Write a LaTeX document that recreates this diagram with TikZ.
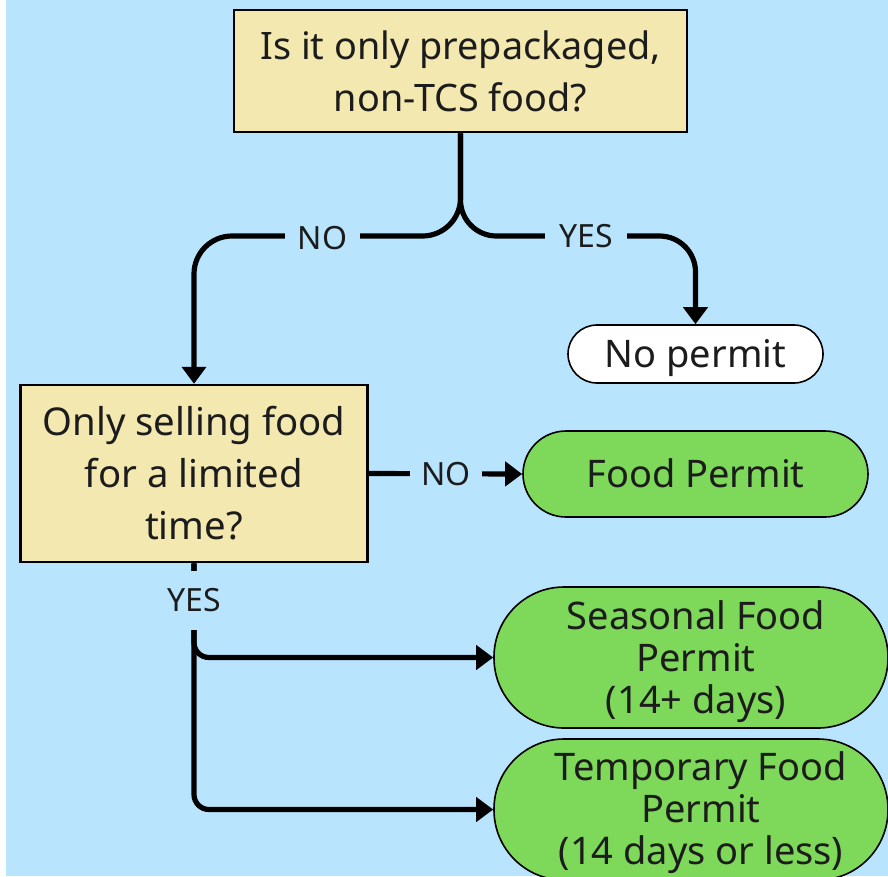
\documentclass[tikz,border=0pt]{standalone}
\usepackage{fontspec}
\setmainfont{Noto Sans}
\usetikzlibrary{arrows.meta}

\definecolor{bgblue}{RGB}{184,228,253}
\definecolor{qbeige}{RGB}{242,232,176}
\definecolor{pgreen}{RGB}{126,216,90}
\definecolor{ink}{RGB}{28,28,28}

\begin{document}
\begin{tikzpicture}[x=1pt,y=-1pt,
  question/.style={draw=black, line width=2.5pt, fill=qbeige, text=ink,
    align=center, inner sep=0pt, font=\fontsize{38.3}{52}\selectfont},
  pill/.style={draw=black, line width=1.6pt, inner sep=0pt, text=ink,
    align=center, font=\fontsize{38}{42}\selectfont},
  permit/.style={pill, fill=pgreen},
  permtext/.style={text=ink, align=center, inner sep=0pt,
    font=\fontsize{38}{42}\selectfont},
  conn/.style={line width=5.2pt, draw=black,
    -{Triangle[width=24pt,length=17pt]}},
  lab/.style={fill=bgblue, text=ink, inner sep=0pt,
    text height=22.8pt, text depth=0pt,
    font=\fontsize{32}{36}\selectfont}
]
% page and background
\useasboundingbox (0,0) rectangle (888,876);
\clip (0,0) rectangle (888,876);
\fill[white] (0,0) rectangle (888,876);
\fill[bgblue] (6,0) rectangle (888,876);

% decision boxes
\node[question, minimum width=453, minimum height=122,
  font=\fontsize{37.8}{52}\selectfont] (q1) at (460.5,71)
  {Is it only prepackaged,\\non-TCS food?};
\node[question, minimum width=347, minimum height=177] (q2) at (194,473.5)
  {Only selling food\\for a limited\\time?};

% outcomes (single-line texts centred on their capitals)
\node[pill, text height=27pt, text depth=0pt, fill=white,
  minimum width=255, minimum height=58, rounded corners=29]
  (nop) at (695.5,354) {No permit};
\node[permit, text height=27pt, text depth=0pt,
  minimum width=345, minimum height=86, rounded corners=43]
  (fp) at (695.5,474) {Food Permit};
\node[permit, minimum width=394, minimum height=141, rounded corners=70,
  label={[permtext, xshift=5pt, yshift=-4pt]center:Seasonal Food\\Permit\\(14+ days)}]
  (sfp) at (691,657.5) {};
\node[permit, minimum width=394, minimum height=141, rounded corners=70,
  label={[permtext, xshift=10pt, yshift=-3pt]center:Temporary Food\\Permit\\(14 days or less)}]
  (tfp) at (691,809.5) {};

% branches out of the first question
\draw[conn, rounded corners=38] (q1.south) -- (460.5,236) -- (q2.north |- 0,236) -- (q2.north);
\draw[conn, rounded corners=36] (q1.south) -- (460.5,236) -- (nop.north |- 0,236) -- (nop.north);
\node[lab, minimum width=75, minimum height=30] (no1) at (322.5,238) {NO};
\node[lab, minimum width=82, minimum height=30] (yes1) at (586,236) {YES};

% branches out of the second question
\draw[conn] (q2.east) -- (fp.west);
\node[lab, minimum width=72, minimum height=30] (no2) at (446,474) {NO};

\draw[conn, rounded corners=15] (q2.south) -- (q2.south |- sfp.west) -- (sfp.west);
\draw[conn, rounded corners=15] (q2.south) -- (q2.south |- tfp.west) -- (tfp.west);
\node[lab, minimum width=70, minimum height=59] (yes2) at (194,600.5) {YES};
\end{tikzpicture}
\end{document}
